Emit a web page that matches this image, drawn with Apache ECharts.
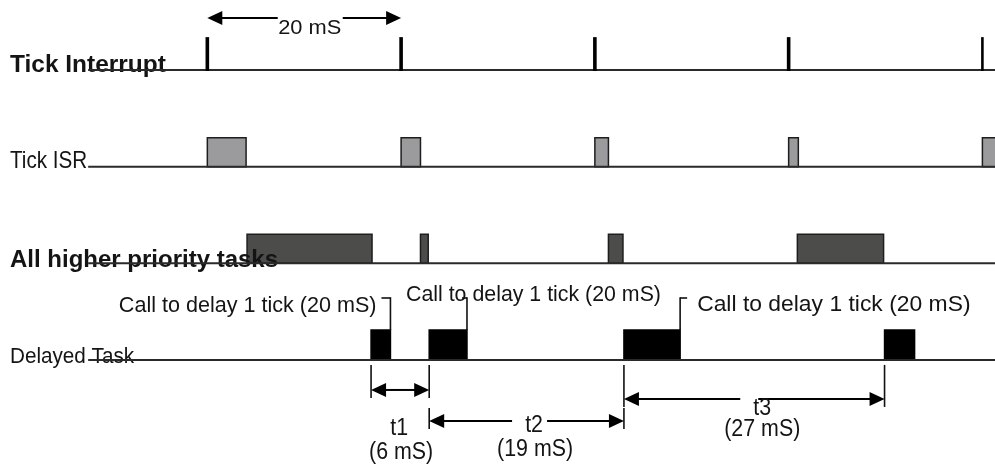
<!DOCTYPE html>
<html><head><meta charset="utf-8">
<script src="https://cdn.jsdelivr.net/npm/echarts@6/dist/echarts.min.js"></script>
<style>html,body{margin:0;padding:0;background:#fff}#c{width:995px;height:466px}</style>
</head><body><div id="c"></div>
<script>
// ---------- data (time in ms) ----------
const rowNames = ['Tick Interrupt', 'Tick ISR', 'All higher priority tasks', 'Delayed Task'];
const tickTimes = [0, 20, 40, 60, 80];
const tickISR = [[0, 4], [20, 22], [40, 41.4], [60, 61], [80, 82]];
const higherTasks = [[4.1, 17], [22, 22.8], [41.4, 42.9], [60.9, 69.8]];
const delayedTask = [[16.9, 18.9], [22.9, 26.8], [43, 48.8], [69.9, 73]];
const delayCallTimes = [18.9, 26.8, 48.8];
const delayCallText = 'Call to delay 1 tick (20 mS)';
const tickPeriod = [0, 20];
const tickPeriodText = '20 mS';
const intervalNames = ['t1', 't2', 't3'];
const intervalValues = ['(6 mS)', '(19 mS)', '(27 mS)'];
const timelineStart = -12.3;

// intervals between successive starts of the delayed task
const intervals = delayedTask.slice(0, -1).map((d, i) => [d[0], delayedTask[i + 1][0]]);

// ---------- styles / layout ----------
const X_MIN = -21.4, X_MAX = 81.3;
const Y_MIN = 0.276, Y_MAX = 5.097;
const FONT = '"Liberation Sans", Arial, Helvetica, sans-serif';
const INK = '#141414';
const LINE = '#2a2a2a';
const ROW_TICK = 1, ROW_ISR = 2, ROW_HIGH = 3, ROW_DELAY = 4;
const BOX_H = 0.30, DELAY_H = 0.31, TICK_H = 0.34;
const AH_L = 15, AH_W = 7;
const TEXT_SHIFT = 2.5;

const rowLabelStyle = [
  { weight: 'bold', size: 23.3, sx: 1.05, dy: -7 },
  { weight: 'normal', size: 24, sx: 0.86, dy: -8 },
  { weight: 'bold', size: 23.3, sx: 1.03, dy: -5.5 },
  { weight: 'normal', size: 22, sx: 0.94, dy: -5.5 }
];
const calloutLayout = [
  { hookDx: -9, rise: -32, textDx: -14, textDy: -27, align: 'right', size: 22, sx: 0.98 },
  { hookDx: -5, rise: -32, textDx: -61, textDy: -37.5, align: 'left', size: 22, sx: 0.97 },
  { hookDx: 7, rise: -32, textDx: 17, textDy: -27.5, align: 'left', size: 22, sx: 1.04 }
];
const intervalLayout = [
  { arrowDy: 30, extLong: [true, true], nameDx: -1, nameDy: 66, valDx: 1, valDy: 90, gap: null },
  { arrowDy: 61, extLong: [false, false], nameDx: 7.5, nameDy: 63, valDx: 8.5, valDy: 87, gap: [-14.5, 20.5] },
  { arrowDy: 39, extLong: [true, true], nameDx: 8, nameDy: 46, valDx: 8, valDy: 67, gap: [-14, 4] }
];
const intervalFont = { size: 23, sx: 0.93 };
const periodLayout = { arrowDy: -52, textDx: 5.5, textDy: -43.5, gap: [-26.5, 38.5], size: 19.5, sx: 1.12 };

function font(weight, size) { return weight + ' ' + size + 'px ' + FONT; }
function line(x1, y1, x2, y2, w, c) {
  return { type: 'line', shape: { x1, y1, x2, y2 }, style: { stroke: c || LINE, lineWidth: w || 2 } };
}
function head(tipX, y, dir) {
  return { type: 'polygon', shape: { points: [[tipX, y], [tipX - dir * AH_L, y - AH_W], [tipX - dir * AH_L, y + AH_W]] }, style: { fill: '#000' } };
}
function text(str, x, y, f, align, sx) {
  return { type: 'text', x, y: y + TEXT_SHIFT, scaleX: sx || 1,
    style: { text: str, x: 0, y: 0, font: f, fill: INK, align: align || 'center', verticalAlign: 'middle' } };
}
// double-headed dimension shaft with optional gap for a label
function dimension(x0, x1, y, gap) {
  const els = [head(x0, y, -1), head(x1, y, 1)];
  const a = x0 + AH_L - 1, b = x1 - AH_L + 1, mid = (x0 + x1) / 2;
  if (gap) {
    els.push(line(a, y, mid + gap[0], y, 2, '#000'));
    els.push(line(mid + gap[1], y, b, y, 2, '#000'));
  } else {
    els.push(line(a, y, b, y, 2, '#000'));
  }
  return els;
}

function boxSeries(spans, row, h, fill, stroke) {
  return {
    type: 'custom', z: 3, data: spans.map(s => [s[0], s[1], row]),
    encode: { x: [0, 1], y: 2 },
    renderItem(params, api) {
      const p0 = api.coord([api.value(0), api.value(2)]);
      const p1 = api.coord([api.value(1), api.value(2) - h]);
      return { type: 'rect', shape: { x: p0[0], y: p1[1], width: p1[0] - p0[0], height: p0[1] - p1[1] },
        style: { fill, stroke, lineWidth: 1.5 } };
    }
  };
}

const chart = echarts.init(document.getElementById('c'), null, { renderer: 'canvas' });
chart.setOption({
  animation: false,
  backgroundColor: '#ffffff',
  grid: { left: 0, right: 0, top: 0, bottom: 0 },
  xAxis: { type: 'value', min: X_MIN, max: X_MAX, show: false },
  yAxis: { type: 'value', min: Y_MIN, max: Y_MAX, inverse: true, show: false },
  series: [
    boxSeries(tickISR, ROW_ISR, BOX_H, '#9b9a9c', '#1e1e1e'),
    boxSeries(higherTasks, ROW_HIGH, BOX_H, '#4c4d4a', '#1e1e1e'),
    boxSeries(delayedTask, ROW_DELAY, DELAY_H, '#000000', '#000000'),
    // row labels (drawn over the first higher-priority box, as in the original)
    {
      type: 'custom', z: 5, data: rowNames.map((n, i) => [X_MIN, i + 1]),
      encode: { x: 0, y: 1 },
      renderItem(params, api) {
        const i = params.dataIndex, s = rowLabelStyle[i];
        const p = api.coord([api.value(0), api.value(1)]);
        return text(rowNames[i], p[0] + 10, p[1] + s.dy, font(s.weight, s.size), 'left', s.sx);
      }
    },
    // baselines (run across the row labels)
    {
      type: 'custom', z: 6, data: rowNames.map((n, i) => [timelineStart, i + 1]),
      encode: { x: 0, y: 1 },
      renderItem(params, api) {
        const p = api.coord([api.value(0), api.value(1)]);
        const cs = params.coordSys;
        return line(p[0], p[1], cs.x + cs.width, p[1], 2, LINE);
      }
    },
    // tick interrupt marks
    {
      type: 'custom', z: 7, data: tickTimes.map(t => [t, ROW_TICK]),
      encode: { x: 0, y: 1 },
      renderItem(params, api) {
        const p0 = api.coord([api.value(0), api.value(1)]);
        const p1 = api.coord([api.value(0), api.value(1) - TICK_H]);
        const w = params.dataIndex === tickTimes.length - 1 ? 2.6 : 3.6;
        return line(p0[0], p0[1] + 1, p1[0], p1[1], w, '#000');
      }
    },
    // callouts "Call to delay 1 tick"
    {
      type: 'custom', z: 4, data: delayCallTimes.map(t => [t, ROW_DELAY]),
      encode: { x: 0, y: 1 },
      renderItem(params, api) {
        const L = calloutLayout[params.dataIndex];
        const p = api.coord([api.value(0), api.value(1) - DELAY_H]);
        const x = p[0], top = p[1], yh = top + L.rise;
        return { type: 'group', children: [
          line(x, top, x, yh - 0.75, 1.6, '#111'),
          line(x, yh, x + L.hookDx, yh, 1.6, '#111'),
          text(delayCallText, x + L.textDx, top + L.textDy, font('normal', L.size), L.align, L.sx)
        ] };
      }
    },
    // 20 mS tick period arrow
    {
      type: 'custom', z: 4, data: [[tickPeriod[0], tickPeriod[1], ROW_TICK]],
      encode: { x: [0, 1], y: 2 },
      renderItem(params, api) {
        const p0 = api.coord([api.value(0), api.value(2)]);
        const p1 = api.coord([api.value(1), api.value(2)]);
        const y = p0[1] + periodLayout.arrowDy, mid = (p0[0] + p1[0]) / 2;
        const els = dimension(p0[0], p1[0], y, periodLayout.gap);
        els.push(text(tickPeriodText, mid + periodLayout.textDx, p0[1] + periodLayout.textDy,
          font('normal', periodLayout.size), 'center', periodLayout.sx));
        return { type: 'group', children: els };
      }
    },
    // t1 / t2 / t3 intervals
    {
      type: 'custom', z: 4, data: intervals.map(iv => [iv[0], iv[1], ROW_DELAY]),
      encode: { x: [0, 1], y: 2 },
      renderItem(params, api) {
        const i = params.dataIndex, L = intervalLayout[i];
        const p0 = api.coord([api.value(0), api.value(2)]);
        const p1 = api.coord([api.value(1), api.value(2)]);
        const base = p0[1], y = base + L.arrowDy, mid = (p0[0] + p1[0]) / 2;
        const els = [];
        [p0[0], p1[0]].forEach((x, k) => {
          const from = L.extLong[k] ? base + 5 : y - 13;
          els.push(line(x, from, x, y + 8, 1.6, '#111'));
        });
        dimension(p0[0], p1[0], y, L.gap).forEach(e => els.push(e));
        const f = font('normal', intervalFont.size);
        els.push(text(intervalNames[i], mid + L.nameDx, base + L.nameDy, f, 'center', intervalFont.sx));
        els.push(text(intervalValues[i], mid + L.valDx, base + L.valDy, f, 'center', intervalFont.sx));
        return { type: 'group', children: els };
      }
    }
  ]
});
</script>
</body></html>
